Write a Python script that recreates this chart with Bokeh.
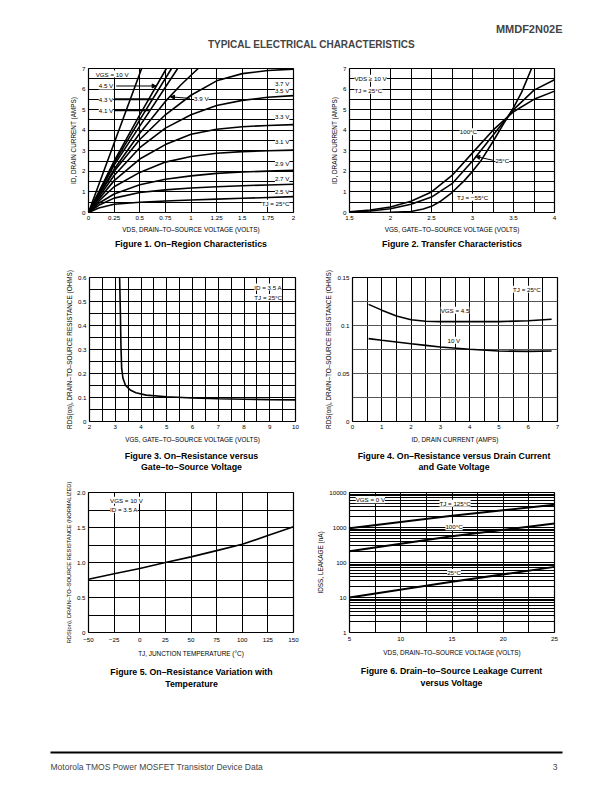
from bokeh.plotting import figure
from bokeh.layouts import column, row
from bokeh.models import Range1d, FixedTicker, Label, Arrow, NormalHead, Spacer
from bokeh.embed import file_html
from bokeh.resources import INLINE

FONT = "Liberation Sans"

# ---------------- data ----------------
# Figure 1: on-region characteristics (ID vs VDS per VGS)
fig1_vds = [0, 0.1, 0.25, 0.5, 0.75, 1.0, 1.25, 1.5, 1.75, 2.0]
fig1_id_3v7 = [0, 0.85, 2.0, 3.55, 4.75, 5.7, 6.4, 6.75, 6.9, 6.97]
fig1_id_3v5 = [0, 0.75, 1.8, 3.15, 4.1, 4.75, 5.2, 5.45, 5.6, 5.68]
fig1_id_3v3 = [0, 0.65, 1.55, 2.6, 3.3, 3.8, 4.05, 4.17, 4.23, 4.27]
fig1_id_3v1 = [0, 0.55, 1.25, 1.95, 2.45, 2.72, 2.88, 2.96, 3.0, 3.03]
fig1_id_2v9 = [0, 0.45, 0.9, 1.35, 1.62, 1.78, 1.9, 1.97, 2.01, 2.05]
fig1_id_2v7 = [0, 0.35, 0.7, 0.97, 1.1, 1.19, 1.25, 1.3, 1.34, 1.37]
fig1_id_2v5 = [0, 0.22, 0.4, 0.5, 0.56, 0.61, 0.65, 0.69, 0.73, 0.77]
fig1_vds_10v = [0, 0.3, 0.6]
fig1_id_10v = [0, 4.05, 8.1]
fig1_vds_4v5 = [0, 0.25, 0.5, 0.76, 0.85]
fig1_id_4v5 = [0, 2.5, 4.75, 7.0, 7.7]
fig1_vds_4v3 = [0, 0.25, 0.5, 0.81, 0.9]
fig1_id_4v3 = [0, 2.4, 4.5, 7.0, 7.6]
fig1_vds_4v1 = [0, 0.25, 0.5, 0.87, 0.95]
fig1_id_4v1 = [0, 2.3, 4.2, 7.0, 7.5]
fig1_vds_3v9 = [0, 0.25, 0.5, 0.75, 0.9, 1.07, 1.2]
fig1_id_3v9 = [0, 2.1, 3.85, 5.4, 6.2, 7.0, 7.5]
fig1_xticks = [0, 0.25, 0.5, 0.75, 1.0, 1.25, 1.5, 1.75, 2.0]
fig1_xlabels = ["0", "0.25", "0.5", "0.75", "1", "1.25", "1.5", "1.75", "2"]
fig1_yticks = [0, 1, 2, 3, 4, 5, 6, 7]
fig1_ylabels = ["0", "1", "2", "3", "4", "5", "6", "7"]

# Figure 2: transfer characteristics
fig2_vgs = [1.5, 1.75, 2.0, 2.25, 2.5, 2.75, 3.0, 3.25, 3.5, 3.75, 4.0]
fig2_id_100c = [0.04, 0.12, 0.27, 0.55, 1.0, 1.8, 2.9, 4.0, 4.9, 5.5, 5.9]
fig2_id_25c = [0.02, 0.07, 0.18, 0.4, 0.75, 1.4, 2.5, 3.75, 5.0, 5.95, 6.45]
fig2_vgs_m55 = [1.5, 2.0, 2.25, 2.4, 2.5, 2.6, 2.75, 2.9, 3.0, 3.1, 3.25, 3.4, 3.5, 3.6, 3.72, 3.8]
fig2_id_m55 = [0.0, 0.01, 0.05, 0.17, 0.3, 0.52, 0.97, 1.55, 2.0, 2.5, 3.45, 4.45, 5.1, 5.85, 7.0, 7.6]
fig2_xticks = [1.5, 2.0, 2.5, 3.0, 3.5, 4.0]
fig2_xlabels = ["1.5", "2", "2.5", "3", "3.5", "4"]

# Figure 3: RDS(on) vs VGS
fig3_vgs = [3.17, 3.2, 3.22, 3.25, 3.3, 3.4, 3.6, 3.8, 4.2, 5.0, 6.0, 7.0, 8.0, 9.0, 10.0]
fig3_rds = [0.6, 0.45, 0.32, 0.22, 0.18, 0.15, 0.13, 0.12, 0.11, 0.103, 0.098, 0.095, 0.093, 0.091, 0.09]
fig3_xticks = [2, 3, 4, 5, 6, 7, 8, 9, 10]
fig3_xlabels = ["2", "3", "4", "5", "6", "7", "8", "9", "10"]
fig3_yticks = [0, 0.1, 0.2, 0.3, 0.4, 0.5, 0.6]
fig3_ylabels = ["0", "0.1", "0.2", "0.3", "0.4", "0.5", "0.6"]

# Figure 4: RDS(on) vs ID
fig4_id = [0.55, 1.0, 1.5, 2.0, 2.5, 3.0, 4.0, 5.0, 6.0, 6.8]
fig4_rds_4v5 = [0.122, 0.116, 0.110, 0.106, 0.1045, 0.104, 0.104, 0.104, 0.105, 0.1065]
fig4_rds_10v = [0.0863, 0.0846, 0.0828, 0.081, 0.0793, 0.0776, 0.0752, 0.0734, 0.073, 0.0734]
fig4_xticks = [0, 1, 2, 3, 4, 5, 6, 7]
fig4_xlabels = ["0", "1", "2", "3", "4", "5", "6", "7"]
fig4_yticks = [0, 0.05, 0.1, 0.15]
fig4_ylabels = ["0", "0.05", "0.1", "0.15"]

# Figure 5: normalized RDS(on) vs temperature
fig5_tj = [-50, -25, 0, 25, 50, 75, 100, 125, 150]
fig5_rds = [0.76, 0.84, 0.915, 1.0, 1.08, 1.17, 1.26, 1.385, 1.51]
fig5_xticks = [-50, -25, 0, 25, 50, 75, 100, 125, 150]
fig5_xlabels = ["\u221250", "\u221225", "0", "25", "50", "75", "100", "125", "150"]
fig5_yticks = [0, 0.5, 1.0, 1.5, 2.0]
fig5_ylabels = ["0", "0.5", "1.0", "1.5", "2.0"]

# Figure 6: leakage vs VDS
fig6_vds = [5, 15, 25]
fig6_idss_125c = [950, 2150, 4500]
fig6_idss_100c = [210, 560, 1300]
fig6_idss_25c = [10, 28, 75]
fig6_xticks = [5, 10, 15, 20, 25]
fig6_xlabels = ["5", "10", "15", "20", "25"]
fig6_yticks = [1, 10, 100, 1000, 10000]
fig6_ylabels = ["1", "10", "100", "1000", "10000"]


# ---------------- helpers ----------------
def make_fig(width, height, left, right, top, bottom, x_rng, y_rng, y_type="linear"):
    p = figure(width=width, height=height, x_range=Range1d(*x_rng), y_range=Range1d(*y_rng),
               y_axis_type=y_type, min_border_left=left, min_border_right=right,
               min_border_top=top, min_border_bottom=bottom,
               output_backend="svg", toolbar_location=None, tools="")
    p.outline_line_color = "black"
    p.outline_line_width = 1.2
    p.outline_line_alpha = 1.0
    p.background_fill_color = "white"
    p.border_fill_color = "white"
    return p


def style(p, xticks, xlabels, yticks, ylabels, xgrid, ygrid, xtitle, ytitle,
          ytitle_size="6.4px", x_tick_standoff=3, x_label_standoff=3):
    xa = p.xaxis[0]
    ya = p.yaxis[0]
    xa.ticker = FixedTicker(ticks=xticks)
    xa.major_label_overrides = dict(zip(xticks, xlabels))
    ya.ticker = FixedTicker(ticks=yticks)
    ya.major_label_overrides = dict(zip(yticks, ylabels))
    xa.axis_label = xtitle
    ya.axis_label = ytitle
    for ax in (xa, ya):
        ax.axis_line_color = None
        ax.major_tick_in = 0
        ax.major_tick_out = 0
        ax.minor_tick_in = 0
        ax.minor_tick_out = 0
        ax.major_label_text_font = FONT
        ax.major_label_text_font_size = "6.2px"
        ax.major_label_text_color = "black"
        ax.axis_label_text_font = FONT
        ax.axis_label_text_font_size = "6.4px"
        ax.axis_label_text_font_style = "normal"
        ax.axis_label_text_color = "black"
        ax.major_label_standoff = 3
        ax.axis_label_standoff = 3
    xa.major_label_standoff = x_tick_standoff
    xa.axis_label_standoff = x_label_standoff
    ya.axis_label_standoff = 2
    ya.axis_label_text_font_size = ytitle_size
    p.xgrid.ticker = FixedTicker(ticks=xgrid)
    p.ygrid.ticker = FixedTicker(ticks=ygrid)
    for g in (p.xgrid, p.ygrid):
        g.grid_line_color = "black"
        g.grid_line_alpha = 1.0
        g.grid_line_width = 1.0


def blank(height):
    b = figure(width=596, height=height, x_range=Range1d(0, 596), y_range=Range1d(0, height),
               x_axis_location=None, y_axis_location=None, min_border=0,
               output_backend="svg", toolbar_location=None, tools="")
    b.grid.visible = False
    b.outline_line_color = None
    return b


def caption_strip(height, items):
    # items: (x_center, y_center, text) in strip pixels
    s = blank(height)
    for x, y, text in items:
        s.add_layout(Label(x=x, y=y, text=text, text_font=FONT, text_font_size="8.8px",
                           text_font_style="bold", text_align="center", text_baseline="middle",
                           text_color="black"))
    return s


def lbl(p, x, y, text, align="left", size="6.2px", bg=True):
    p.add_layout(Label(x=x, y=y, text=text, text_font=FONT, text_font_size=size,
                       text_align=align, text_baseline="middle", text_color="black",
                       background_fill_color="white" if bg else None))


def arrow(p, x0, y0, x1, y1, head=True, width=1.0):
    if head:
        p.add_layout(Arrow(x_start=x0, y_start=y0, x_end=x1, y_end=y1, line_width=width,
                           end=NormalHead(size=4, fill_color="black", line_color="black")))
    else:
        p.add_layout(Arrow(x_start=x0, y_start=y0, x_end=x1, y_end=y1, line_width=width, end=None))


LW = 1.6

# ---------------- header ----------------
hdr = blank(55)
hdr.add_layout(Label(x=554, y=27, text="MMDF2N02E", text_font=FONT, text_font_size="11px",
                     text_font_style="bold", text_align="right", text_baseline="middle"))
hdr.add_layout(Label(x=303, y=11, text="TYPICAL ELECTRICAL CHARACTERISTICS", text_font=FONT,
                     text_font_size="10px", text_font_style="bold", text_align="center",
                     text_baseline="middle"))

# ---------------- figure 1 ----------------
p1 = make_fig(302, 180, 80, 17, 13, 22, (0, 2), (0, 7))
style(p1, fig1_xticks, fig1_xlabels, fig1_yticks, fig1_ylabels,
      [0.25, 0.5, 0.75, 1.0, 1.25, 1.5, 1.75], [0.5 * k for k in range(1, 14)],
      "VDS, DRAIN\u2013TO\u2013SOURCE VOLTAGE (VOLTS)", "ID, DRAIN CURRENT (AMPS)")
for ys in (fig1_id_3v7, fig1_id_3v5, fig1_id_3v3, fig1_id_3v1, fig1_id_2v9, fig1_id_2v7, fig1_id_2v5):
    p1.line(fig1_vds, ys, line_color="black", line_width=LW)
for xs, ys in ((fig1_vds_10v, fig1_id_10v), (fig1_vds_4v5, fig1_id_4v5), (fig1_vds_4v3, fig1_id_4v3),
               (fig1_vds_4v1, fig1_id_4v1), (fig1_vds_3v9, fig1_id_3v9)):
    p1.line(xs, ys, line_color="black", line_width=LW)
arrow(p1, 0.27, 6.15, 0.66, 6.15, head=True, width=1.0)
arrow(p1, 0.25, 5.5, 0.62, 5.5, head=False, width=2.0)
arrow(p1, 0.25, 4.97, 0.59, 4.97, head=False, width=2.0)
arrow(p1, 0.99, 5.55, 0.80, 5.62, head=True, width=1.0)
lbl(p1, 0.07, 6.73, "VGS = 10 V")
lbl(p1, 0.1, 6.15, "4.5 V")
lbl(p1, 0.1, 5.5, "4.3 V")
lbl(p1, 0.1, 4.97, "4.1 V")
lbl(p1, 1.03, 5.55, "3.9 V")
for yv, tx in ((6.25, "3.7 V"), (5.95, "3.5 V"), (4.67, "3.3 V"), (3.45, "3.1 V"), (2.38, "2.9 V"),
               (1.65, "2.7 V"), (1.04, "2.5 V"), (0.45, "TJ = 25\u00b0C")):
    lbl(p1, 1.96, yv, tx, align="right")

# ---------------- figure 2 ----------------
p2 = make_fig(294, 180, 39, 50, 12, 23, (1.5, 4.0), (0, 7))
style(p2, fig2_xticks, fig2_xlabels, fig1_yticks, fig1_ylabels,
      [1.75 + 0.25 * k for k in range(9)], [0.5 * k for k in range(1, 14)],
      "VGS, GATE\u2013TO\u2013SOURCE VOLTAGE (VOLTS)", "ID, DRAIN CURRENT (AMPS)")
p2.line(fig2_vgs, fig2_id_100c, line_color="black", line_width=LW)
p2.line(fig2_vgs, fig2_id_25c, line_color="black", line_width=LW)
p2.line(fig2_vgs_m55, fig2_id_m55, line_color="black", line_width=LW)
lbl(p2, 1.56, 6.52, "VDS \u2265 10 V")
lbl(p2, 1.56, 5.94, "TJ = 25\u00b0C")
lbl(p2, 2.95, 3.93, "100\u00b0C", align="center")
arrow(p2, 3.25, 2.54, 3.04, 2.72, head=True)
lbl(p2, 3.28, 2.51, "25\u00b0C")
lbl(p2, 2.81, 0.74, "TJ = \u221255\u00b0C")

cap1 = caption_strip(20, [(182.5, 12, "Figure 1. On\u2013Region Characteristics"),
                          (443.5, 12, "Figure 2. Transfer Characteristics")])

# ---------------- figure 3 ----------------
p3 = make_fig(304, 192, 81, 17, 22, 26, (2, 10), (0, 0.6))
style(p3, fig3_xticks, fig3_xlabels, fig3_yticks, fig3_ylabels,
      [2.5 + 0.5 * k for k in range(15)], [0.05 * k for k in range(1, 12)],
      "VGS, GATE\u2013TO\u2013SOURCE VOLTAGE (VOLTS)",
      "RDS(on), DRAIN\u2013TO\u2013SOURCE RESISTANCE (OHMS)", x_label_standoff=4)
p3.line(fig3_vgs, fig3_rds, line_color="black", line_width=LW)
lbl(p3, 8.4, 0.56, "ID = 3.5 A")
lbl(p3, 8.4, 0.517, "TJ = 25\u00b0C")

# ---------------- figure 4 ----------------
p4 = make_fig(292, 192, 40, 47, 22, 26, (0, 7), (0, 0.15))
style(p4, fig4_xticks, fig4_xlabels, fig4_yticks, fig4_ylabels,
      [0.5 * k for k in range(1, 14)], [0.025 * k for k in range(1, 6)],
      "ID, DRAIN CURRENT (AMPS)", "RDS(on), DRAIN\u2013TO\u2013SOURCE RESISTANCE (OHMS)",
      x_label_standoff=4)
p4.ygrid.grid_line_color = "#555555"
p4.line(fig4_id, fig4_rds_4v5, line_color="black", line_width=LW)
p4.line(fig4_id, fig4_rds_10v, line_color="black", line_width=LW)
lbl(p4, 3.5, 0.116, "VGS = 4.5", align="center")
lbl(p4, 3.46, 0.0846, "10 V", align="center")
lbl(p4, 6.43, 0.1378, "TJ = 25\u00b0C", align="right")

cap2 = caption_strip(28, [(183, 20, "Figure 3. On\u2013Resistance versus"),
                          (183, 9, "Gate\u2013to\u2013Source Voltage"),
                          (445.5, 20, "Figure 4. On\u2013Resistance versus Drain Current"),
                          (445.5, 9, "and Gate Voltage")])

# ---------------- figure 5 ----------------
p5 = make_fig(302, 188, 80, 17, 15, 31, (-50, 150), (0, 2))
style(p5, fig5_xticks, fig5_xlabels, fig5_yticks, fig5_ylabels,
      [-25, 0, 25, 50, 75, 100, 125], [0.25 * k for k in range(1, 8)],
      "TJ, JUNCTION TEMPERATURE (\u00b0C)",
      "RDS(on), DRAIN\u2013TO\u2013SOURCE RESISTANCE (NORMALIZED)", ytitle_size="5.7px",
      x_tick_standoff=5, x_label_standoff=5)
p5.line(fig5_tj, fig5_rds, line_color="black", line_width=LW)
lbl(p5, -29, 1.89, "VGS = 10 V")
lbl(p5, -29, 1.76, "ID = 3.5 A")

# ---------------- figure 6 ----------------
p6 = make_fig(294, 188, 39, 50, 17, 29, (5, 25), (1, 10000), y_type="log")
grid6 = [m * 10 ** e for e in range(0, 4) for m in range(1, 10)][1:]
style(p6, fig6_xticks, fig6_xlabels, fig6_yticks, fig6_ylabels,
      [7.5, 10, 12.5, 15, 17.5, 20, 22.5], grid6,
      "VDS, DRAIN\u2013TO\u2013SOURCE VOLTAGE (VOLTS)", "IDSS, LEAKAGE (nA)",
      x_tick_standoff=4, x_label_standoff=5)
p6.line(fig6_vds, fig6_idss_125c, line_color="black", line_width=2.0)
p6.line(fig6_vds, fig6_idss_100c, line_color="black", line_width=2.0)
p6.line(fig6_vds, fig6_idss_25c, line_color="black", line_width=2.0)
lbl(p6, 5.6, 6200, "VGS = 0 V")
lbl(p6, 15.3, 4900, "TJ = 125\u00b0C", align="center")
lbl(p6, 15.2, 1050, "100\u00b0C", align="center")
lbl(p6, 15.2, 52, "25\u00b0C", align="center")

cap3 = caption_strip(32, [(183, 24, "Figure 5. On\u2013Resistance Variation with"),
                          (183, 12, "Temperature"),
                          (443, 25, "Figure 6. Drain\u2013to\u2013Source Leakage Current"),
                          (443, 13, "versus Voltage")])

# ---------------- footer ----------------
ftr = blank(89)
ftr.add_layout(Arrow(x_start=42, y_start=32, x_end=554, y_end=32, line_width=2.2, end=None))
ftr.add_layout(Label(x=42, y=18, text="Motorola TMOS Power MOSFET Transistor Device Data",
                     text_font=FONT, text_font_size="8.5px", text_baseline="middle"))
ftr.add_layout(Label(x=549, y=18, text="3", text_font=FONT, text_font_size="8.5px",
                     text_align="right", text_baseline="middle"))

layout = row(Spacer(width=8, height=10),
             column(hdr, row(p1, p2), cap1, row(p3, p4), cap2, row(p5, p6), cap3, ftr))
open("out.html", "w").write(file_html(layout, INLINE))
